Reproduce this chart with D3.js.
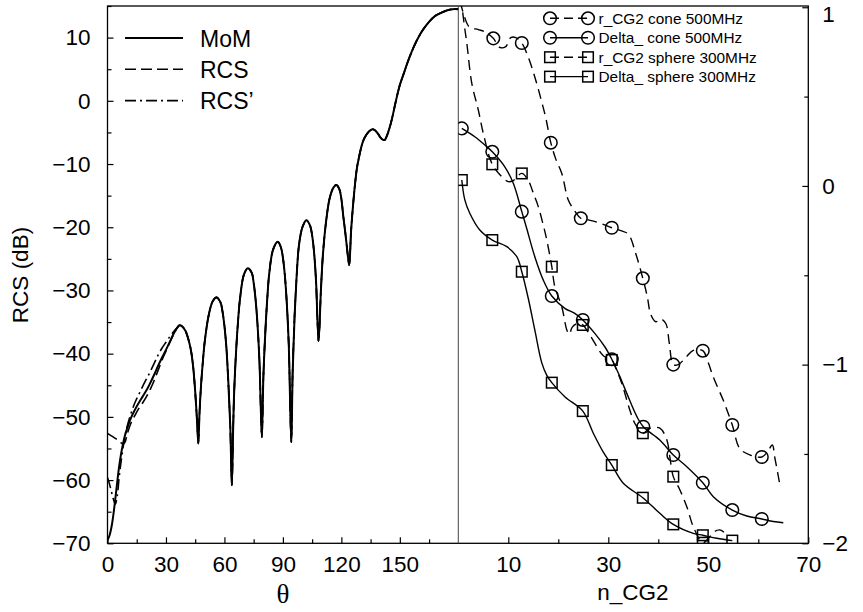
<!DOCTYPE html>
<html><head><meta charset="utf-8">
<script src="https://cdn.jsdelivr.net/npm/d3@7/dist/d3.min.js"></script>
<style>
body{margin:0;background:#fff;}
svg{display:block;}
text{font-family:"Liberation Sans",Arial,Helvetica,sans-serif;fill:#000;}
</style></head>
<body>
<svg id="chart" width="863" height="612"></svg>
<script>
// ---------- DATA ----------
// Left panel: theta (deg) vs RCS (dB)
const momTheta = [0,1,2,3,4,5,6,7,8,9,10,12,14,16,18,20,22,24,26,28,30,32,34,36,37,38,40,42,43,44,45,46,46.6,47.2,48,49,50,52,54,56,58,59,60,61,62,63,63.8,64.5,65,66,67,68,70,72,74,75,76,77,78,79.2,80,81,82,83,85,87.4,89,90,91,92,93,94.3,95,96,97,98,99,100,102,104,105,106,107,108.3,109.5,110.5,112,114,116,117.4,119,120,121,122,123,124,125,126,127,128,129,130,131,132,134,136,137,138,139,140,141,142.2,143,144,145,146,147,148,150,152,154,156,158,160,162,165,168,171,174,177,180];
const momRCS = [-69.5,-68.8,-67.5,-65.5,-63,-60.3,-57.8,-55.8,-54.2,-52.9,-51.9,-50.2,-48.9,-47.8,-46.8,-45.8,-44.6,-43.3,-41.9,-40.6,-39.4,-38.1,-36.8,-35.8,-35.5,-35.6,-36.4,-38.3,-39.8,-42.2,-46,-51,-54.2,-49.5,-45,-41,-37.8,-33.8,-31.7,-31.1,-31.9,-33.3,-35.6,-39,-44.5,-51.5,-60.8,-51.5,-46,-39.5,-34.8,-31.3,-27.5,-26.5,-27.2,-28.8,-31.5,-35.5,-41.5,-53.2,-43.5,-36.5,-31.2,-27.3,-23.5,-22.3,-23.2,-24.8,-27.6,-32,-38.5,-54,-43,-34,-28,-23.5,-21.3,-20,-18.9,-19.8,-21.3,-24,-28.5,-38,-30,-24.5,-19.5,-15.4,-13.7,-13.3,-14,-15.5,-18.3,-20.8,-23.6,-26,-20.5,-16.5,-13.2,-10.6,-9,-7.6,-6.5,-5.8,-4.9,-4.5,-4.6,-4.9,-5.3,-5.8,-6.1,-6.2,-5.8,-5,-4,-2.8,-1.4,0,2.5,4.3,6.1,7.7,9.1,10.3,11.3,12.5,13.4,13.9,14.3,14.5,14.5];
// RCS (dashed) and RCS' (dash-dot) differ from MoM only for small theta; beyond that they follow MoM
const rcsTheta = [0,2,4,6,7,8,9,10,12,14,16,18,20,22,24,26,28,30,32,34,36];
const rcsVal   = [-52.6,-53.0,-53.4,-53.8,-54.1,-54.3,-54,-52.8,-51,-49.8,-48.7,-47.8,-46.8,-45.6,-44.2,-42.6,-41,-39.6,-38.2,-36.9,-35.8];
const rcspTheta = [0,1,2,3,4,5,6,7,8,9,10,12,14,16,18,20,22,24,26,28,30,32,34,36];
const rcspVal   = [-59.6,-60.6,-61.8,-63,-63.8,-62.5,-59.5,-57,-54.8,-53,-51.6,-49.5,-47.8,-46.5,-45.2,-44,-42.8,-41.5,-40.2,-39.1,-38.2,-37.3,-36.5,-35.8];

// Right panel: n_CG2 vs value
const rCone_n = [0.4,1.2,2.2,4,5.5,7,8.3,9.5,10.5,11.5,12.7,14,15.3,16.5,17.5,18.5,19.5,20.7,22,23.3,24.5,26,28,30.7,32.5,34,35.5,36.9,37.8,38.5,39.5,40.5,41.5,42.2,43,44,45.5,47,48.9,50,51,53,54.8,56.3,58.3,60.7,61.8,62.8,63.3,64.3];
const rCone_v = [1.03,0.95,0.89,0.875,0.86,0.826,0.775,0.78,0.83,0.83,0.80,0.72,0.61,0.49,0.38,0.242,0.15,0.07,-0.079,-0.14,-0.181,-0.19,-0.205,-0.234,-0.25,-0.27,-0.38,-0.517,-0.62,-0.72,-0.76,-0.745,-0.77,-0.88,-1.0,-1.0,-0.96,-0.92,-0.922,-0.99,-1.07,-1.2,-1.338,-1.47,-1.505,-1.517,-1.49,-1.45,-1.52,-1.67];
const rConeMk_n = [7,12.7,18.5,24.5,30.7,36.9,43,48.9,54.8,60.7];
const rConeMk_v = [0.826,0.80,0.242,-0.181,-0.234,-0.517,-1.0,-0.922,-1.338,-1.517];

const dCone_n = [0.7,3.3,5.3,6.8,9.3,11,12.7,13.7,15.3,17,18.7,21.3,23.3,24.9,27.3,29.3,30.7,32.2,33.7,35.7,37,40.3,43,45.7,48.9,51,54.8,57.7,60.7,63,65];
const dCone_v = [0.322,0.275,0.229,0.191,0.107,0.015,-0.144,-0.24,-0.396,-0.527,-0.616,-0.685,-0.713,-0.75,-0.825,-0.9,-0.97,-1.06,-1.161,-1.29,-1.348,-1.422,-1.506,-1.571,-1.661,-1.739,-1.814,-1.847,-1.864,-1.878,-1.885];
const dConeMk_n = [0.7,6.8,12.7,18.7,24.9,30.7,37,43,48.9,54.8,60.7];
const dConeMk_v = [0.322,0.191,-0.144,-0.616,-0.75,-0.97,-1.348,-1.506,-1.661,-1.814,-1.864];

const rSph_n = [0.5,1.2,1.7,2.7,4,5,6.8,8.7,10,11,12.7,14,15,16,17,17.7,18.7,19.3,20.7,21.7,22.2,22.8,23.8,24.9,26,27.3,29,30.7,31.5,32.7,34.3,35.3,36.9,38.3,40.3,41.7,42.3,43,44.3,45.7,47,48.9,50.3,51.2,52.3,53.3,53.7];
const rSph_v = [1.06,0.9,0.80,0.574,0.425,0.294,0.121,0.052,0.024,0.03,0.07,0.03,-0.04,-0.116,-0.22,-0.303,-0.452,-0.564,-0.676,-0.806,-0.83,-0.79,-0.77,-0.778,-0.82,-0.88,-0.95,-0.974,-1.02,-1.105,-1.254,-1.328,-1.384,-1.356,-1.356,-1.42,-1.515,-1.627,-1.70,-1.795,-1.907,-1.997,-1.963,-1.935,-1.925,-1.944,-1.972];
const rSphMk_n = [6.8,12.7,18.7,24.9,30.7,36.9,43,48.9];
const rSphMk_v = [0.121,0.07,-0.452,-0.778,-0.974,-1.384,-1.627,-1.997];

const dSph_n = [0.7,1.3,2.3,4.3,6.8,9.7,11.7,12.7,14,15.3,16.7,17.7,18.7,21.3,24.9,27,29,30.7,33,36.9,40.3,43,47,48.9,51.7,54.8];
const dSph_v = [0.033,-0.078,-0.153,-0.247,-0.303,-0.34,-0.396,-0.48,-0.63,-0.806,-0.99,-1.06,-1.101,-1.18,-1.26,-1.384,-1.49,-1.562,-1.664,-1.745,-1.832,-1.894,-1.944,-1.955,-1.972,-1.985];
const dSphMk_n = [0.7,6.8,12.7,18.7,24.9,30.7,36.9,43,48.9,54.8];
const dSphMk_v = [0.033,-0.303,-0.48,-1.101,-1.26,-1.562,-1.745,-1.894,-1.955,-1.985];

const leftYTicks = [-70,-60,-50,-40,-30,-20,-10,0,10];
const leftYMinor = [-65,-55,-45,-35,-25,-15,-5,5,15];
const thetaTicks = [0,30,60,90,120,150];
const thetaMinor = [15,45,75,105,135,165];
const nTicks = [10,30,50,70];
const nMinor = [20,40,60];
const rightYTicks = [-2,-1,0,1];
const rightYMinor = [-1.5,-0.5,0.5];
const leftLegend = ["MoM","RCS","RCS\u2019"];
const rightLegend = ["r_CG2 cone 500MHz","Delta_ cone 500MHz","r_CG2 sphere 300MHz","Delta_ sphere 300MHz"];

// ---------- DRAW ----------
const svg = d3.select("#chart");
const X0 = 107.5, XM = 458.3, X1 = 808.3, Y0 = 6, Y1 = 543.3;
const xL = d3.scaleLinear([0,180],[X0,XM]);
const xR = d3.scaleLinear([0,70],[XM,X1]);
const yL = d3.scaleLinear([-70,15],[Y1,Y0]);
const yR = d3.scaleLinear([-2,1.007],[Y1,Y0]);
const FS = 22.5;

svg.append("clipPath").attr("id","cl").append("rect").attr("x",X0).attr("y",Y0).attr("width",XM-X0).attr("height",Y1-Y0);
svg.append("clipPath").attr("id","cr").append("rect").attr("x",XM).attr("y",Y0).attr("width",X1-XM).attr("height",Y1-Y0);

function styleAxis(g){ g.select(".domain").remove(); g.selectAll("line").attr("stroke","#000").attr("stroke-width",1.2); g.selectAll("text").attr("font-size",FS).attr("font-family","Liberation Sans, Arial, sans-serif"); }

// left y axis
svg.append("g").attr("transform",`translate(${X0},0)`)
  .call(d3.axisLeft(yL).tickValues(leftYTicks).tickSizeInner(-6).tickSizeOuter(0).tickPadding(17))
  .call(styleAxis);
svg.append("g").attr("transform",`translate(${X0},0)`)
  .call(d3.axisLeft(yL).tickValues(leftYMinor).tickSizeInner(-4).tickSizeOuter(0).tickFormat(""))
  .call(styleAxis);
// bottom theta axis
svg.append("g").attr("transform",`translate(0,${Y1})`)
  .call(d3.axisBottom(xL).tickValues(thetaTicks).tickSizeInner(-6).tickSizeOuter(0).tickPadding(13))
  .call(styleAxis);
svg.append("g").attr("transform",`translate(0,${Y1})`)
  .call(d3.axisBottom(xL).tickValues(thetaMinor).tickSizeInner(-4).tickSizeOuter(0).tickFormat(""))
  .call(styleAxis);
// bottom n axis
svg.append("g").attr("transform",`translate(0,${Y1})`)
  .call(d3.axisBottom(xR).tickValues(nTicks).tickSizeInner(-6).tickSizeOuter(0).tickPadding(13))
  .call(styleAxis);
svg.append("g").attr("transform",`translate(0,${Y1})`)
  .call(d3.axisBottom(xR).tickValues(nMinor).tickSizeInner(-4).tickSizeOuter(0).tickFormat(""))
  .call(styleAxis);
// right y axis
const gRY = svg.append("g").attr("transform",`translate(${X1},0)`)
  .call(d3.axisRight(yR).tickValues(rightYTicks).tickSizeInner(-6).tickSizeOuter(0).tickPadding(14).tickFormat(d3.format("d")))
  .call(styleAxis);
// keep the top label "1" inside the picture
gRY.selectAll(".tick text").filter(d=>d===1).attr("dy","0.64em");
svg.append("g").attr("transform",`translate(${X1},0)`)
  .call(d3.axisRight(yR).tickValues(rightYMinor).tickSizeInner(-4).tickSizeOuter(0).tickFormat(""))
  .call(styleAxis);

// frame + divider
svg.append("rect").attr("x",X0).attr("y",Y0).attr("width",X1-X0).attr("height",Y1-Y0)
  .attr("fill","none").attr("stroke","#000").attr("stroke-width",1.3);
svg.append("line").attr("x1",XM).attr("x2",XM).attr("y1",Y0).attr("y2",Y1).attr("stroke","#444").attr("stroke-width",1);

// axis titles
svg.append("text").attr("x",283).attr("y",603).attr("text-anchor","middle")
  .style("font-family","'Liberation Serif','Times New Roman',serif").attr("font-size",27).text("\u03b8");
svg.append("text").attr("x",633).attr("y",600).attr("text-anchor","middle").attr("font-size",FS).text("n_CG2");
svg.append("text").attr("transform","translate(28,275) rotate(-90)").attr("text-anchor","middle").attr("font-size",FS).text("RCS (dB)");

// left panel curves
const mom = momTheta.map((t,i)=>[t,momRCS[i]]);
const rcsHead = rcsTheta.map((t,i)=>[t,rcsVal[i]]);
const rcspHead = rcspTheta.map((t,i)=>[t,rcspVal[i]]);
const rcs = rcsHead.concat(mom.filter(d=>d[0]>rcsTheta[rcsTheta.length-1]));
const rcsp = rcspHead.concat(mom.filter(d=>d[0]>rcspTheta[rcspTheta.length-1]));
const lineL = d3.line().x(d=>xL(d[0])).y(d=>yL(d[1])).curve(d3.curveCatmullRom.alpha(0.5));
const gL = svg.append("g").attr("clip-path","url(#cl)");
gL.append("path").attr("d",lineL(mom)).attr("fill","none").attr("stroke","#000").attr("stroke-width",2);
gL.append("path").attr("d",lineL(rcs)).attr("fill","none").attr("stroke","#000").attr("stroke-width",1.6).attr("stroke-dasharray","11,5");
gL.append("path").attr("d",lineL(rcsp)).attr("fill","none").attr("stroke","#000").attr("stroke-width",1.6).attr("stroke-dasharray","11,4,2,4");

// left legend
const legDash = [null,"11,5","11,4,2,4"];
leftLegend.forEach((t,i)=>{
  const y = 38 + i*31.3;
  svg.append("line").attr("x1",125).attr("x2",183).attr("y1",y).attr("y2",y).attr("stroke","#000")
    .attr("stroke-width",i===0?2:1.6).attr("stroke-dasharray",legDash[i]);
  svg.append("text").attr("x",200).attr("y",y+8.5).attr("font-size",23).text(t);
});

// right panel
const lineR = d3.line().x(d=>xR(d[0])).y(d=>yR(d[1])).curve(d3.curveCatmullRom.alpha(0.5));
const gR = svg.append("g").attr("clip-path","url(#cr)");
const seriesR = [
  {n:rCone_n, v:rCone_v, mn:rConeMk_n, mv:rConeMk_v, dash:"10,6", shape:"circle"},
  {n:dCone_n, v:dCone_v, mn:dConeMk_n, mv:dConeMk_v, dash:null, shape:"circle"},
  {n:rSph_n, v:rSph_v, mn:rSphMk_n, mv:rSphMk_v, dash:"10,6", shape:"square"},
  {n:dSph_n, v:dSph_v, mn:dSphMk_n, mv:dSphMk_v, dash:null, shape:"square"}
];
function marker(g, shape, cx, cy){
  if(shape==="circle") g.append("circle").attr("cx",cx).attr("cy",cy).attr("r",6.3)
      .attr("fill","none").attr("stroke","#000").attr("stroke-width",1.5);
  else g.append("rect").attr("x",cx-5.3).attr("y",cy-5.3).attr("width",10.6).attr("height",10.6)
      .attr("fill","none").attr("stroke","#000").attr("stroke-width",1.5);
}
seriesR.forEach(s=>{
  const pts = s.n.map((n,i)=>[n,s.v[i]]);
  gR.append("path").attr("d",lineR(pts)).attr("fill","none").attr("stroke","#000")
    .attr("stroke-width",1.4).attr("stroke-dasharray",s.dash);
  s.mn.forEach((n,i)=>marker(gR, s.shape, xR(n), yR(s.mv[i])));
});

// right legend
rightLegend.forEach((t,i)=>{
  const y = 18.3 + i*19.45;
  const s = seriesR[i];
  svg.append("line").attr("x1",550).attr("x2",588).attr("y1",y).attr("y2",y).attr("stroke","#000")
    .attr("stroke-width",1.4).attr("stroke-dasharray",s.dash ? "9,5" : null);
  marker(svg, s.shape, 550, y);
  marker(svg, s.shape, 588, y);
  svg.append("text").attr("x",598.5).attr("y",y+5.3).attr("font-size",15.4).text(t);
});
</script>
</body></html>
